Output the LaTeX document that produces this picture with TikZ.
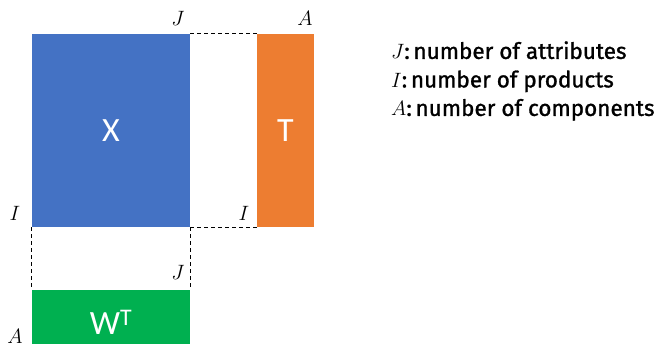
\documentclass[tikz,border=0pt]{standalone}
\usepackage{fontspec}
\setsansfont{Carlito}
\newfontfamily\legendfont[FakeBold=1.2]{Fira Sans}
\definecolor{xblue}{HTML}{4472C4}
\definecolor{torange}{HTML}{ED7D31}
\definecolor{wgreen}{HTML}{00B050}
\tikzset{
  matbox/.style={inner sep=0pt, draw=none, text=white, font=\sffamily\fontsize{34}{36}\selectfont},
  dimlabel/.style={inner sep=0pt, font=\fontsize{22}{24}\selectfont},
  guide/.style={dash pattern=on 4pt off 3pt, line width=1pt}
}
\begin{document}
\begin{tikzpicture}[x=1pt, y=-1pt]
	\useasboundingbox (0,0) rectangle (662,344);
	% matrices
	\node[matbox, fill=xblue, minimum width=158pt, minimum height=193pt] (X) at (111,130.5) {X};
	\node[matbox, fill=torange, minimum width=57pt, minimum height=193pt] (T) at (285.5,130.5) {T};
	\node[matbox, fill=wgreen, minimum width=158pt, minimum height=64pt] (W) at (111,322) {W\textsuperscript{T}};
	% guides
	\draw[guide] (X.north east) -- (T.north west) (X.south east) -- (T.south west);
	\draw[guide] (X.south west) -- (W.north west) (X.south east) -- (W.north east);
	% dimension labels
	\node[dimlabel] (xj) at (178,18) {$J$};
	\node[dimlabel] (ta) at (305,18) {$A$};
	\node[dimlabel] (xi) at (15,213) {$I$};
	\node[dimlabel] (ti) at (244,213) {$I$};
	\node[dimlabel] (wj) at (178,272) {$J$};
	\node[dimlabel] (wa) at (15,336) {$A$};
	% legend
	\node[anchor=west, align=left, inner sep=0pt, font=\legendfont\fontsize{22.5}{28.5}\selectfont] (legend) at (391,81)
		{$J$:\,number of attributes\\ $I$:\,number of products\\ $A$:\,number of components};
\end{tikzpicture}
\end{document}
